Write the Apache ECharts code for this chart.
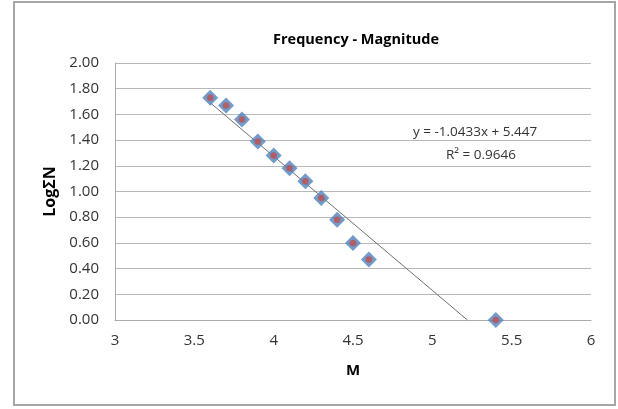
<!DOCTYPE html>
<html><head><meta charset="utf-8">
<script src="https://cdn.jsdelivr.net/npm/echarts@6/dist/echarts.min.js"></script>
<style>html,body{margin:0;padding:0;background:#fff}#c{width:618px;height:409px}</style>
</head><body><div id="c"></div>
<script>
// Data
const magnitudes = [3.6, 3.7, 3.8, 3.9, 4.0, 4.1, 4.2, 4.3, 4.4, 4.5, 4.6, 5.4];
const logN = [1.73, 1.67, 1.56, 1.39, 1.28, 1.18, 1.08, 0.95, 0.78, 0.60, 0.47, 0.00];
const trendX = [3.6, 5.221];
const trendY = [1.691, 0.0];
const equationText = 'y = -1.0433x + 5.447';
const r2Text = 'R² = 0.9646';
const titleText = 'Frequency - Magnitude';
const xName = 'M';
const yName = 'LogΣN';

const pts = magnitudes.map((m, i) => [m, logN[i]]);
const trend = trendX.map((x, i) => [x, trendY[i]]);
const F = '"Open Sans", "Liberation Sans", sans-serif';

const chart = echarts.init(document.getElementById('c'), null, {renderer: 'canvas'});
chart.setOption({
  animation: false,
  backgroundColor: '#fff',
  title: {text: titleText, left: 351, top: 27, textAlign: 'center',
    textStyle: {fontFamily: F, fontSize: 14.5, fontWeight: 'bold', color: '#000'}},
  grid: {left: 115, right: 27, top: 63, bottom: 89},
  xAxis: {type: 'value', min: 3, max: 6, interval: 0.5,
    name: xName, nameLocation: 'middle', nameGap: 43,
    nameTextStyle: {fontFamily: F, fontSize: 15, fontWeight: 'bold', color: '#000'},
    axisLine: {show: true, lineStyle: {color: '#ababab', width: 1}},
    axisTick: {show: false}, splitLine: {show: false},
    axisLabel: {fontFamily: F, fontSize: 15, color: '#333', margin: 13}},
  yAxis: {type: 'value', min: 0, max: 2, interval: 0.2,
    name: yName, nameLocation: 'middle', nameGap: 54, nameRotate: 90,
    nameTextStyle: {fontFamily: F, fontSize: 16, fontWeight: 'bold', color: '#000'},
    axisLine: {show: true, lineStyle: {color: '#ababab', width: 1}},
    axisTick: {show: false},
    splitLine: {show: true, lineStyle: {color: '#b8b8b8', width: 1.2}},
    axisLabel: {fontFamily: F, fontSize: 15, color: '#333', margin: 16,
      formatter: v => v.toFixed(2)}},
  series: [
    {type: 'line', data: trend, symbol: 'none', z: 2,
      lineStyle: {color: '#6e6e6e', width: 1}},
    {type: 'scatter', data: pts, symbol: 'diamond', symbolSize: 16, z: 3,
      itemStyle: {color: '#4f81bd'}},
    {type: 'scatter', data: pts, symbol: 'circle', symbolSize: 6.5, z: 4,
      itemStyle: {color: '#c0504d'}}
  ],
  graphic: [
    {type: 'rect', shape: {x: 14, y: 2, width: 601, height: 403}, z: 100,
      style: {fill: 'none', stroke: '#a6a6a6', lineWidth: 2}},
    {type: 'text', left: 413, top: 125, z: 100,
      style: {text: equationText, fontFamily: F, fontSize: 13.5, fill: '#333'}},
    {type: 'text', left: 446, top: 148, z: 100,
      style: {text: r2Text, fontFamily: F, fontSize: 13.5, fill: '#333'}}
  ]
});
</script></body></html>
